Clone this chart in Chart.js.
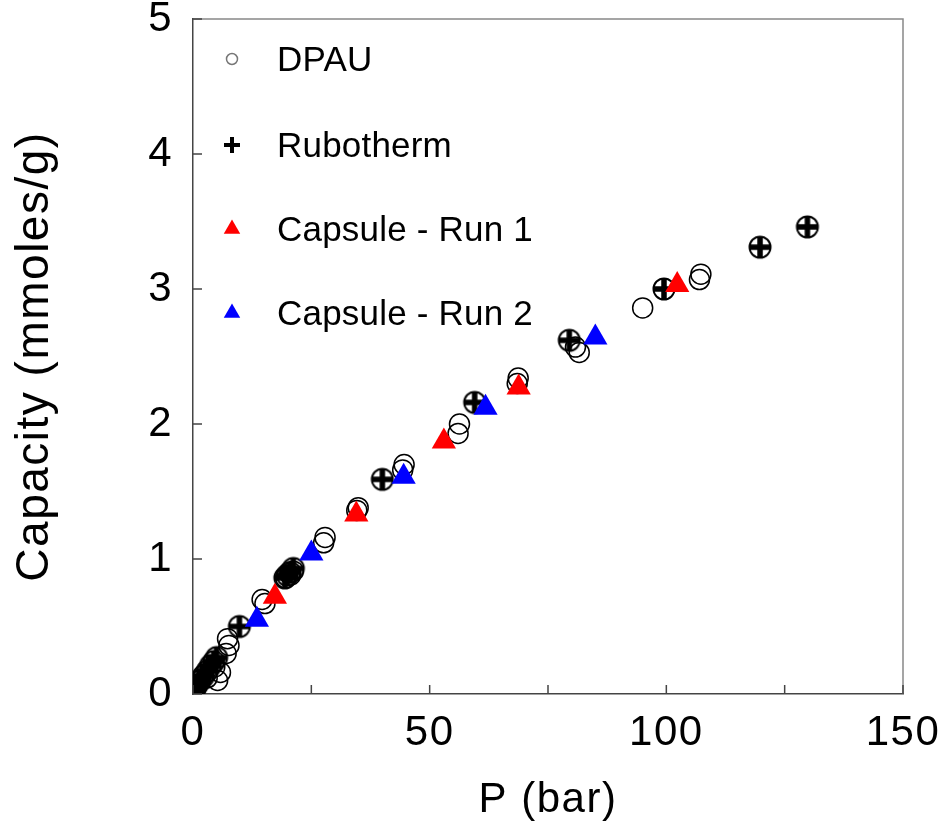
<!DOCTYPE html>
<html>
<head>
<meta charset="utf-8">
<script src="https://cdn.jsdelivr.net/npm/chart.js@4.4.1/dist/chart.umd.min.js"></script>
<style>
  html, body { margin: 0; padding: 0; background: #fff; }
  #wrap { width: 939px; height: 836px; }
</style>
</head>
<body>
<div id="wrap"><canvas id="myChart"></canvas></div>
<script>
// Pression (bar) et capacité (mmoles/g) pour chaque méthode de mesure
const dpauP = [0.3, 0.8, 1.5, 2.2, 3.0, 5.2, 5.8, 4.6, 7.0, 7.6, 7.3, 14.6, 15.2, 19.6, 20.6, 21.2,
    27.6, 27.9, 34.6, 34.9, 44.3, 44.6, 56.0, 56.3, 68.5, 68.7, 80.8, 81.6, 95.0, 107.0, 107.3];
const dpauCap = [0.03, 0.06, 0.10, 0.14, 0.12, 0.10, 0.16, 0.20, 0.30, 0.36, 0.41, 0.70, 0.67, 0.86, 0.88, 0.91,
    1.12, 1.16, 1.36, 1.38, 1.66, 1.70, 1.93, 2.00, 2.30, 2.34, 2.57, 2.53, 2.86, 3.07, 3.11];

const rubothermP = [0.1, 0.4, 0.9, 1.5, 2.2, 3.0, 3.7, 4.4, 5.0, 9.8, 19.4, 19.9, 20.5, 21.2,
    40.0, 59.5, 79.5, 99.5, 119.8, 129.8];
const rubothermCap = [0.01, 0.04, 0.07, 0.10, 0.13, 0.17, 0.21, 0.24, 0.27, 0.50, 0.86, 0.88, 0.90, 0.93,
    1.59, 2.16, 2.62, 3.00, 3.31, 3.46];

const run1P = [17.3, 34.5, 53.0, 68.8, 102.3];
const run1Cap = [0.72, 1.33, 1.87, 2.27, 3.03];

const run2P = [13.5, 25.0, 44.5, 61.8, 85.0];
const run2Cap = [0.55, 1.04, 1.61, 2.12, 2.64];

const legendLabels = ['DPAU', 'Rubotherm', 'Capsule - Run 1', 'Capsule - Run 2'];

const FONT = "'Liberation Sans', Arial, Helvetica, sans-serif";

const toPoints = (xs, ys) => xs.map((x, i) => ({ x: x, y: ys[i] }));

// Marqueur Rubotherm : cercle avec une croix épaisse
const makeCrossCircle = () => {
    const c = document.createElement('canvas');
    c.width = 28;
    c.height = 28;
    const g = c.getContext('2d');
    g.strokeStyle = '#000';
    g.lineWidth = 2;
    g.beginPath();
    g.arc(14, 14, 10.5, 0, Math.PI * 2);
    g.stroke();
    g.lineWidth = 5.5;
    g.beginPath();
    g.moveTo(4, 14); g.lineTo(24, 14);
    g.moveTo(14, 4); g.lineTo(14, 24);
    g.stroke();
    return c;
};

// Espacement des lettres un peu plus large pour les axes
const spacingPlugin = {
    id: 'spacing',
    beforeDraw(chart) {
        chart.ctx.letterSpacing = '1.5px';
    }
};

// Cadre gris + graduations vers l'intérieur
const framePlugin = {
    id: 'frame',
    afterDraw(chart) {
        const { ctx, chartArea: a, scales } = chart;
        ctx.save();
        ctx.strokeStyle = '#888';
        ctx.lineWidth = 1.5;
        ctx.beginPath();
        ctx.moveTo(a.left, a.top); ctx.lineTo(a.right, a.top); ctx.lineTo(a.right, a.bottom);
        ctx.stroke();
        ctx.strokeStyle = '#444';
        ctx.beginPath();
        scales.x.ticks.forEach(t => {
            const px = scales.x.getPixelForValue(t.value);
            ctx.moveTo(px, a.bottom); ctx.lineTo(px, a.bottom - 9);
        });
        scales.y.ticks.forEach(t => {
            const py = scales.y.getPixelForValue(t.value);
            ctx.moveTo(a.left, py); ctx.lineTo(a.left + 9, py);
        });
        ctx.stroke();
        ctx.restore();
    }
};

// Légende dessinée dans le coin supérieur gauche
const legendPlugin = {
    id: 'insideLegend',
    afterDraw(chart) {
        const { ctx, chartArea: a } = chart;
        const styles = [
            { pointStyle: 'circle', radius: 5.5, borderWidth: 1.5, stroke: '#777', fill: 'rgba(0,0,0,0)' },
            { pointStyle: 'cross', radius: 8, borderWidth: 4, stroke: '#000', fill: '#000' },
            { pointStyle: 'triangle', radius: 9.5, borderWidth: 0, stroke: '#f00', fill: '#f00' },
            { pointStyle: 'triangle', radius: 9.5, borderWidth: 0, stroke: '#00f', fill: '#00f' }
        ];
        const rowY = [59, 145, 229, 313];
        ctx.save();
        ctx.letterSpacing = '0.2px';
        ctx.font = '35px ' + FONT;
        ctx.textBaseline = 'middle';
        legendLabels.forEach((label, i) => {
            const s = styles[i];
            ctx.strokeStyle = s.stroke;
            ctx.fillStyle = s.fill;
            ctx.lineWidth = s.borderWidth;
            Chart.helpers.drawPoint(ctx, { pointStyle: s.pointStyle, radius: s.radius, borderWidth: s.borderWidth, rotation: 0 }, a.left + 39, rowY[i]);
            ctx.fillStyle = '#000';
            ctx.fillText(label, a.left + 84, rowY[i] + 2);
        });
        ctx.restore();
    }
};

const ctx = document.getElementById('myChart').getContext('2d');

new Chart(ctx, {
    type: 'scatter',
    data: {
        datasets: [
            {
                label: legendLabels[0],
                data: toPoints(dpauP, dpauCap),
                pointStyle: 'circle',
                pointRadius: 10,
                pointBorderWidth: 1.5,
                borderColor: '#000',
                backgroundColor: 'rgba(0,0,0,0)',
                order: 4
            },
            {
                label: legendLabels[1],
                data: toPoints(rubothermP, rubothermCap),
                pointStyle: makeCrossCircle(),
                order: 3
            },
            {
                label: legendLabels[2],
                data: toPoints(run1P, run1Cap),
                pointStyle: 'triangle',
                pointRadius: 14,
                pointBorderWidth: 0,
                backgroundColor: '#ff0000',
                borderColor: '#ff0000',
                order: 2
            },
            {
                label: legendLabels[3],
                data: toPoints(run2P, run2Cap),
                pointStyle: 'triangle',
                pointRadius: 14,
                pointBorderWidth: 0,
                backgroundColor: '#0000ff',
                borderColor: '#0000ff',
                order: 1
            }
        ]
    },
    options: {
        responsive: true,
        maintainAspectRatio: false,
        devicePixelRatio: 1,
        animation: false,
        layout: { padding: { left: 0, right: 36, top: 19, bottom: 0 } },
        plugins: {
            legend: { display: false },
            tooltip: { enabled: false }
        },
        scales: {
            x: {
                type: 'linear',
                min: 0,
                max: 150,
                ticks: {
                    stepSize: 25,
                    color: '#000',
                    padding: 14,
                    maxRotation: 0,
                    autoSkip: false,
                    font: { family: FONT, size: 42 },
                    callback: v => (v % 50 === 0 ? v : '')
                },
                grid: { display: false, drawTicks: false },
                border: { display: true, color: '#444', width: 1.5 },
                title: {
                    display: true,
                    text: 'P (bar)',
                    color: '#000',
                    font: { family: FONT, size: 42 },
                    padding: { top: 0, bottom: 10 }
                },
                afterFit: scale => {
                    scale.height = 142;
                    scale.paddingLeft = 0;
                    scale.paddingRight = 0;
                }
            },
            y: {
                type: 'linear',
                min: 0,
                max: 5,
                ticks: {
                    stepSize: 1,
                    color: '#000',
                    padding: 20,
                    font: { family: FONT, size: 42 }
                },
                grid: { display: false, drawTicks: false },
                border: { display: true, color: '#444', width: 1.5 },
                title: {
                    display: true,
                    text: 'Capacity (mmoles/g)',
                    color: '#000',
                    font: { family: FONT, size: 46 },
                    padding: { top: 8, bottom: 0 }
                },
                afterFit: scale => {
                    scale.width = 193;
                    scale.paddingTop = 0;
                    scale.paddingBottom = 0;
                }
            }
        }
    },
    plugins: [spacingPlugin, framePlugin, legendPlugin]
});
</script>
</body>
</html>
